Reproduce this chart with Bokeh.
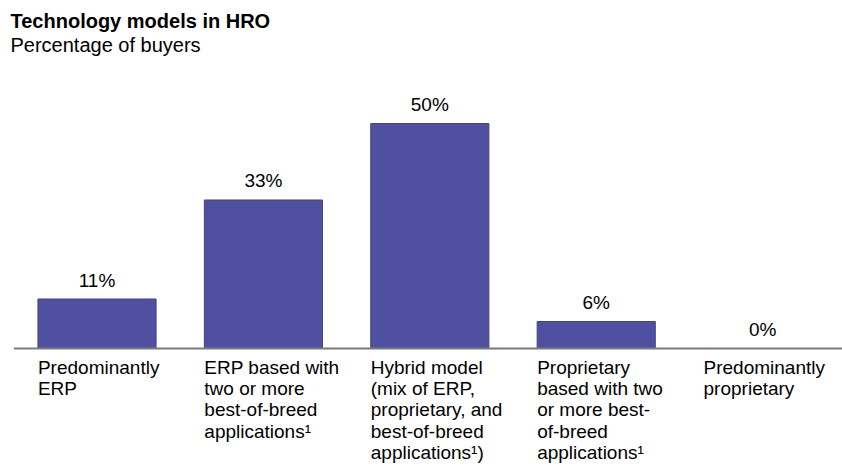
from bokeh.plotting import figure
from bokeh.models import ColumnDataSource, Range1d, Label
from bokeh.core.properties import value
from bokeh.embed import file_html
from bokeh.resources import INLINE

# ---- data ----
categories = [
    "Predominantly\nERP",
    "ERP based with\ntwo or more\nbest-of-breed\napplications\u00b9",
    "Hybrid model\n(mix of ERP,\nproprietary, and\nbest-of-breed\napplications\u00b9)",
    "Proprietary\nbased with two\nor more best-\nof-breed\napplications\u00b9",
    "Predominantly\nproprietary",
]
percentages = [11, 33, 50, 6, 0]
value_labels = ["11%", "33%", "50%", "6%", "0%"]
title_text = "Technology models in HRO"
subtitle_text = "Percentage of buyers"

FONT = "Liberation Sans"
BAR_COLOR = "#5050A0"
BAR_W = 0.71

xs = list(range(len(categories)))
src = ColumnDataSource(dict(
    x=xs,
    top=percentages,
    left=[x - BAR_W / 2 for x in xs],
    cat=categories,
    lab=value_labels,
))

p = figure(width=842, height=471, output_backend="svg", toolbar_location=None,
           x_range=Range1d(-0.58, 4.48), y_range=Range1d(-27.33, 77.33),
           min_border=0, outline_line_color=None, background_fill_color="white",
           border_fill_color="white")
p.axis.visible = False
p.grid.visible = False

p.vbar(x="x", top="top", bottom=0, width=BAR_W, source=src,
       fill_color=BAR_COLOR, line_color="#45457a", line_width=1)

# baseline
p.segment(x0=[-0.5], y0=[0], x1=[4.48], y1=[0], line_color="#7a7a7a", line_width=2)

# value labels
p.text(x="x", y="top", text="lab", source=src, text_align="center",
       text_baseline="alphabetic", y_offset=-19, text_font=value(FONT),
       text_font_size="19px", text_color="black")

# category labels
p.text(x="left", y=0, text="cat", source=src, text_align="left",
       text_baseline="top", y_offset=8, text_font=value(FONT),
       text_font_size="19px", text_line_height=1.02, text_color="black")

p.add_layout(Label(x=10, y=451, x_units="screen", y_units="screen", text=title_text,
                   text_font=FONT, text_font_size="20px", text_font_style="bold",
                   text_baseline="alphabetic", text_color="black"))
p.add_layout(Label(x=10, y=427, x_units="screen", y_units="screen", text=subtitle_text,
                   text_font=FONT, text_font_size="20px",
                   text_baseline="alphabetic", text_color="black"))

open("out.html", "w").write(file_html(p, INLINE))
